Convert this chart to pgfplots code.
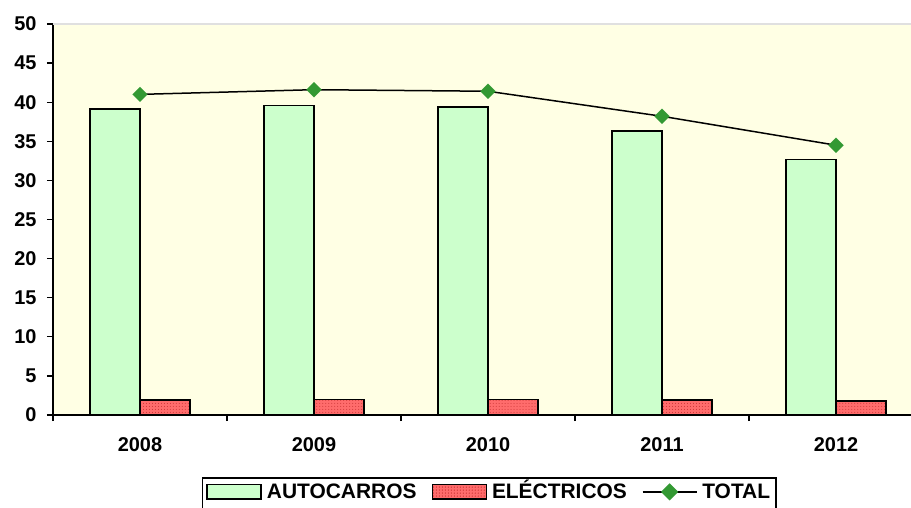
\documentclass[border=0pt]{standalone}
\usepackage{fontspec}
\setmainfont{Liberation Sans}
\usepackage{pgfplots}
\usetikzlibrary{patterns}
\pgfplotsset{compat=1.18}
\definecolor{bgc}{RGB}{255,255,228}
\definecolor{autoc}{RGB}{204,255,204}
\definecolor{elec}{RGB}{255,108,108}
\definecolor{elecdot}{RGB}{200,50,50}
\definecolor{totc}{RGB}{51,153,51}
\begin{document}
\begin{tikzpicture}
\path[use as bounding box] (-53bp,-93bp) rectangle (858bp,415bp);
\begin{axis}[
  at={(0,0)}, anchor=south west,
  scale only axis, width=858bp, height=391bp,
  xmin=-0.5, xmax=4.431, ymin=0, ymax=50,
  axis background/.style={fill=bgc},
  axis x line*=bottom, axis y line*=left,
  axis line style={line width=1.5bp, black, -},
  ytick={0,5,...,50},
  xtick={-0.5,0.5,1.5,2.5,3.5}, xticklabels={},
  extra x ticks={0,1,2,3,4},
  extra x tick labels={2008,2009,2010,2011,2012},
  extra x tick style={major tick length=0pt, xticklabel style={yshift=-19bp}},
  tick align=outside, major tick length=6bp,
  tick style={line width=1.3bp, black},
  /pgf/number format/assume math mode=true,
  ticklabel style={font=\bfseries\fontsize{20}{24}\selectfont},
  yticklabel style={xshift=-7bp},
  legend style={at={(rel axis cs:0.5085,-0.158)}, anchor=north, legend columns=3,
    draw=black, line width=1.8bp, font=\bfseries\fontsize{21}{25}\selectfont,
    inner xsep=4bp, inner ysep=2bp,
    nodes={text height=17bp, text depth=8bp},
    /tikz/every odd column/.append style={column sep=3bp},
    /tikz/every even column/.append style={column sep=13bp}},
]
\draw[black!12, line width=2bp] (rel axis cs:0,1) -- (rel axis cs:1,1);
\addplot[ybar, bar width=50bp, bar shift=-25bp, fill=autoc, draw=black, line width=1.5bp,
  legend image code/.code={\draw[fill=autoc, draw=black, line width=1.5bp] (0bp,-5bp) rectangle (54bp,9.5bp);}]
  coordinates {(0,39.1) (1,39.6) (2,39.4) (3,36.3) (4,32.7)};
\addlegendentry{AUTOCARROS}
\addplot[ybar, bar width=50bp, bar shift=25bp, fill=elec, draw=black, line width=1.5bp,
  postaction={pattern=dots, pattern color=elecdot},
  legend image code/.code={\draw[fill=elec, draw=black, line width=1.5bp, postaction={pattern=dots, pattern color=elecdot}] (0bp,-5bp) rectangle (54bp,9.5bp);}]
  coordinates {(0,1.9) (1,2.0) (2,2.0) (3,1.9) (4,1.8)};
\addlegendentry{ELÉCTRICOS}
\addplot[black, line width=1.5bp, mark=square*, mark size=5.2bp,
  mark options={fill=totc, draw=totc, rotate=45, line width=0.3bp},
  legend image code/.code={\draw[black, line width=1.5bp] (0bp,2.3bp) -- (54bp,2.3bp);
     \fill[totc] (27bp,2.3bp) ++(0,7.5bp) -- ++(7.5bp,-7.5bp) -- ++(-7.5bp,-7.5bp) -- ++(-7.5bp,7.5bp) -- cycle;}]
  coordinates {(0,41.0) (1,41.6) (2,41.4) (3,38.2) (4,34.5)};
\addlegendentry{TOTAL}
\end{axis}
\end{tikzpicture}
\end{document}
